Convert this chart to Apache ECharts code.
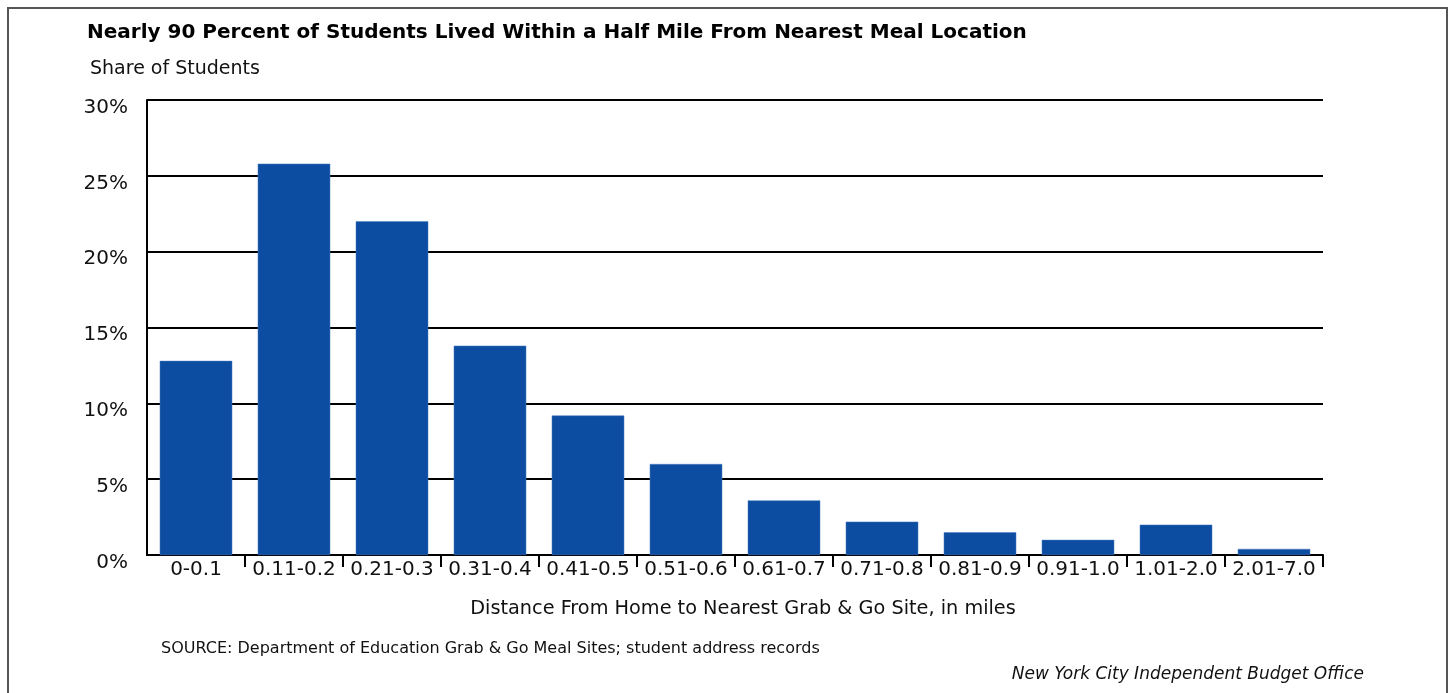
<!DOCTYPE html>
<html>
<head>
<meta charset="utf-8">
<script src="https://cdn.jsdelivr.net/npm/echarts@6/dist/echarts.min.js"></script>
<style>
  html, body { margin: 0; padding: 0; background: #fff; }
  #chart { width: 1453px; height: 693px; }
</style>
</head>
<body>
<div id="chart"></div>
<script>
const categories = ['0-0.1', '0.11-0.2', '0.21-0.3', '0.31-0.4', '0.41-0.5', '0.51-0.6',
    '0.61-0.7', '0.71-0.8', '0.81-0.9', '0.91-1.0', '1.01-2.0', '2.01-7.0'];
const shareOfStudents = [12.8, 25.8, 22.0, 13.8, 9.2, 6.0, 3.6, 2.2, 1.5, 1.0, 2.0, 0.4];

const titleText = 'Nearly 90 Percent of Students Lived Within a Half Mile From Nearest Meal Location';
const subText = 'Share of Students';
const xName = 'Distance From Home to Nearest Grab & Go Site, in miles';
const sourceText = 'SOURCE: Department of Education Grab & Go Meal Sites; student address records';
const creditText = 'New York City Independent Budget Office';

const font = '"DejaVu Sans", "Liberation Sans", sans-serif';

const chartDom = document.getElementById('chart');
const myChart = echarts.init(chartDom);

const option = {
    backgroundColor: '#fff',
    animation: false,
    textStyle: { fontFamily: font },
    title: [
        {
            text: titleText,
            left: 87,
            top: 23,
            padding: 0,
            textStyle: { fontFamily: font, fontSize: 20, fontWeight: 'bold', color: '#000' }
        },
        {
            text: subText,
            left: 90,
            top: 60,
            padding: 0,
            textStyle: { fontFamily: font, fontSize: 19, fontWeight: 'normal', color: '#111' }
        }
    ],
    grid: {
        left: 147,
        right: 130,
        top: 100,
        bottom: 138,
        containLabel: false
    },
    xAxis: {
        type: 'category',
        data: categories,
        name: xName,
        nameLocation: 'middle',
        nameGap: 44,
        nameTextStyle: { fontFamily: font, fontSize: 19.3, color: '#111', padding: [0, 0, 0, 16] },
        axisLine: { show: true, lineStyle: { color: '#000', width: 2 } },
        axisTick: {
            show: true,
            length: 12,
            interval: function (index) { return index !== 0; },
            lineStyle: { color: '#000', width: 2 }
        },
        axisLabel: { fontFamily: font, fontSize: 20, color: '#111', margin: 5, interval: 0 },
        splitLine: { show: false }
    },
    yAxis: {
        type: 'value',
        min: 0,
        max: 30,
        interval: 5,
        axisLine: { show: true, lineStyle: { color: '#000', width: 2 } },
        axisTick: { show: false },
        axisLabel: {
            fontFamily: font,
            fontSize: 20,
            lineHeight: 15,
            color: '#111',
            margin: 19,
            verticalAlign: 'top',
            formatter: '{value}%'
        },
        splitLine: { show: true, lineStyle: { color: '#000', width: 2 } }
    },
    series: [
        {
            name: 'Share of Students',
            type: 'bar',
            data: shareOfStudents,
            barCategoryGap: '26%',
            itemStyle: { color: '#0c4da2', borderColor: '#4a7cc0', borderWidth: 0.5 }
        }
    ],
    graphic: [
        {
            type: 'rect',
            shape: { x: 8, y: 8, width: 1439, height: 700 },
            style: { fill: 'none', stroke: '#555', lineWidth: 2 },
            silent: true
        },
        {
            type: 'text',
            left: 161,
            top: 641,
            style: { text: sourceText, font: '16px ' + font, fill: '#111' }
        },
        {
            type: 'text',
            right: 89,
            top: 666,
            style: { text: creditText, font: 'italic 17px ' + font, fill: '#111' }
        }
    ]
};

myChart.setOption(option);

window.addEventListener('resize', function () {
    myChart.resize();
});
</script>
</body>
</html>
